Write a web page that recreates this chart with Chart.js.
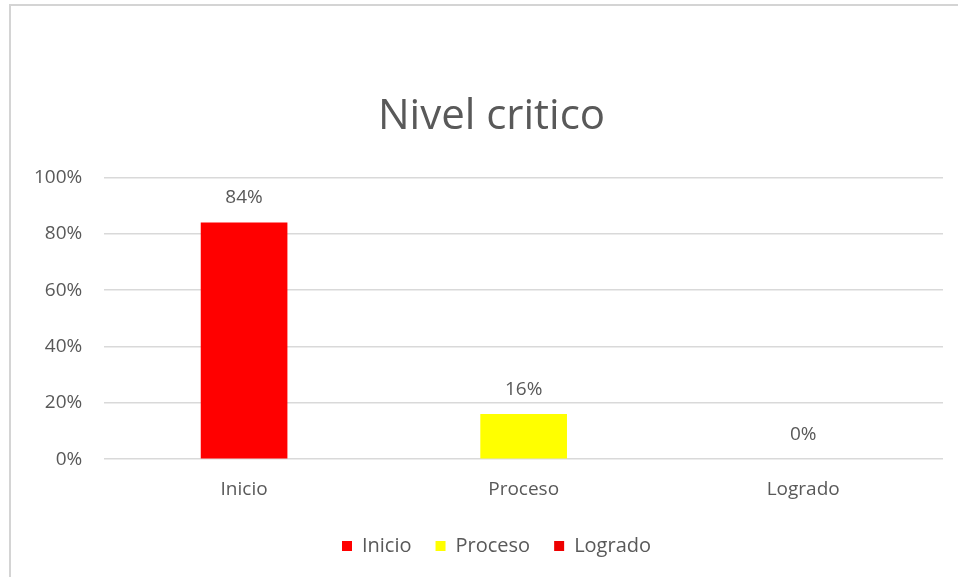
<!DOCTYPE html>
<html>
<head>
<meta charset="utf-8">
<script src="https://cdn.jsdelivr.net/npm/chart.js@4"></script>
<style>
  body { margin: 0; background: #fff; }
  #marco { position: absolute; left: 9px; top: 4px; width: 960px; height: 590px; border: 2px solid #d4d4d4; box-sizing: border-box; }
  #myChart { position: absolute; left: 0; top: 0; }
</style>
</head>
<body>
<div id="marco"></div>
<canvas id="myChart" width="958" height="577"></canvas>
<script>
// Datos de la grafica
const categorias = ['Inicio', 'Proceso', 'Logrado'];
const valores = [84, 16, 0];
const colores = ['#ff0000', '#ffff00', '#ee0000'];
const ticksY = [0, 20, 40, 60, 80, 100];

const gris = '#595959';
const fuente = "'Open Sans', 'Noto Sans', sans-serif";

// Plugin para poner el porcentaje arriba de cada barra
const etiquetas = {
  id: 'etiquetas',
  afterLayout(chart) {
    // titulo y leyenda van centrados sobre todo el marco, no solo el area con padding
    chart.titleBlock.left += 28;
    chart.legend.left += 38;
  },
  afterDatasetsDraw(chart) {
    const ctx = chart.ctx;
    const meta = chart.getDatasetMeta(0);
    ctx.save();
    ctx.font = '19px ' + fuente;
    ctx.fillStyle = gris;
    ctx.textAlign = 'center';
    ctx.textBaseline = 'bottom';
    meta.data.forEach(function (bar, i) {
      ctx.fillText(valores[i] + '%', bar.x, bar.y - 15);
    });
    ctx.restore();
  }
};

const ctx = document.getElementById('myChart');
let graphData = {
  type: 'bar',
  data: {
    labels: categorias,
    datasets: [{
      label: 'Nivel critico',
      data: valores,
      backgroundColor: colores,
      borderWidth: 0,
      barPercentage: 0.31,
      categoryPercentage: 1
    }]
  },
  options: {
    responsive: false,
    animation: false,
    layout: { padding: { left: 12, right: 15, top: 0, bottom: 11 } },
    plugins: {
      tooltip: { enabled: false },
      title: {
        display: true,
        text: 'Nivel critico',
        color: gris,
        font: { family: fuente, size: 42, weight: 'normal' },
        padding: { top: 92, bottom: 35 }
      },
      legend: {
        position: 'bottom',
        labels: {
          color: gris,
          font: { family: fuente, size: 20 },
          boxWidth: 10,
          boxHeight: 10,
          padding: 24,
          generateLabels: function () {
            return categorias.map(function (c, i) {
              return { text: c, fillStyle: colores[i], strokeStyle: colores[i], lineWidth: 0, fontColor: gris };
            });
          }
        }
      }
    },
    scales: {
      x: {
        grid: { display: false },
        border: { display: false },
        ticks: { color: gris, font: { family: fuente, size: 19 }, padding: 11 }
      },
      y: {
        min: 0,
        max: 100,
        afterBuildTicks: function (axis) {
          axis.ticks = ticksY.map(function (v) { return { value: v }; });
        },
        grid: { color: '#d9d9d9', drawTicks: false, lineWidth: 1.5 },
        border: { display: false },
        ticks: {
          color: gris,
          font: { family: fuente, size: 19 },
          padding: 22,
          callback: function (v) { return v + '%'; }
        }
      }
    }
  },
  plugins: [etiquetas]
};

let myChart = new Chart(ctx, graphData);
</script>
</body>
</html>
